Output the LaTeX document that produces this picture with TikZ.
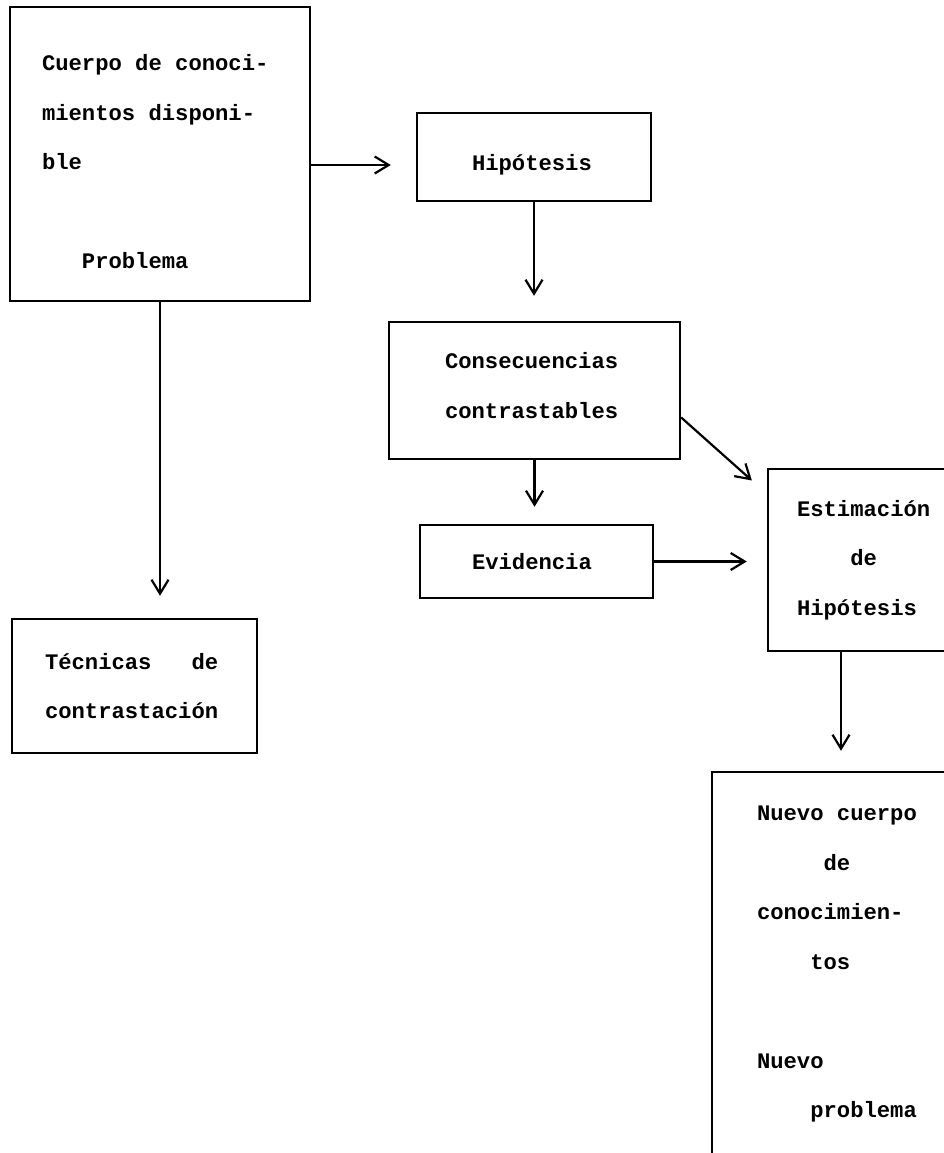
\documentclass[tikz,border=0pt]{standalone}
\usepackage{fontspec}
\newfontfamily\typefont{Liberation Mono}
\usetikzlibrary{arrows.meta}
% typewriter face, one character per 13.32pt
\newcommand{\typeface}{\typefont\bfseries\fontsize{22.2}{49.5}\selectfont}
% extra room above the first line or below the last one
\newcommand{\padtop}[1]{\rule{0pt}{#1}}
\newcommand{\padbot}[1]{\rule[-#1]{0pt}{0pt}}

\begin{document}
\begin{tikzpicture}[x=1pt,y=-1pt,
		box/.style={draw, line width=2.4pt, align=left, inner ysep=0pt, font=\typeface,
			execute at begin node={\spaceskip=13.32pt\xspaceskip=13.32pt\relax}},
		arr/.style={line width=2.2pt, -{Straight Barb[length=14pt,width=17pt]}, shorten >=20pt}]
			\useasboundingbox (0,0) rectangle (944,1153);
			\node[box, minimum width=300, minimum height=294, inner xsep=32, text width=236] (cuerpo) at (160,154)
				{\padtop{32pt}Cuerpo de conoci-\\mientos disponi-\\ble\\\mbox{}\\\phantom{xxx}Problema};
			\node[box, minimum width=234, minimum height=88, inner xsep=55, text width=124] (hip) at (534,157)
				{\padtop{31pt}Hipótesis};
			\node[box, minimum width=291, minimum height=137, inner xsep=56, text width=179] (consec) at (534.5,390.5)
				{Consecuencias\\contrastables\padbot{10pt}};
			\node[box, minimum width=233, minimum height=73, inner xsep=52, text width=129] (evid) at (536.5,561.5) {Evidencia};
			\node[box, minimum width=232, minimum height=182, inner xsep=29, text width=174] (estim) at (884,560)
				{Estimación\\\phantom{xxxx}de\\Hipótesis};
			\node[box, minimum width=245, minimum height=134, inner xsep=33, text width=179] (tecnicas) at (134.5,686)
				{Técnicas\phantom{xxx}de\\contrastación};
			\node[box, minimum width=288, minimum height=384, inner xsep=45, text width=198] (nuevo) at (856,964)
				{Nuevo cuerpo\\\phantom{xxxxx}de\\conocimien-\\\phantom{xxxx}tos\\\mbox{}\\Nuevo\\\phantom{xxxx}problema};
			\draw[arr, shorten >=25pt] ([yshift=-11pt]cuerpo.east) -- ([yshift=-11pt]cuerpo.east -| hip.west);
			\draw[arr, shorten >=22pt] (cuerpo.south) -- (cuerpo.south |- tecnicas.north);
			\draw[arr, shorten >=25pt] (hip.south) -- (hip.south |- consec.north);
			\draw[arr, shorten >=17pt] (consec.south) -- (consec.south |- evid.north);
			\draw[arr] ([yshift=-27pt]consec.east) -- ([yshift=-26pt]estim.north west);
			\draw[arr] (evid.east) -- (evid.east -| estim.west);
			\draw[arr] ([xshift=-43pt]estim.south) -- ([xshift=-43pt]estim.south |- nuevo.north);
		\end{tikzpicture}
\end{document}
